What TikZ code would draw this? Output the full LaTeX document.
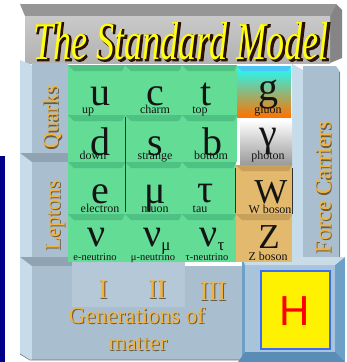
\documentclass[tikz,border=0pt]{standalone}
\usepackage{fontspec}
\setmainfont{Liberation Serif}
\newfontfamily\hfont{Liberation Sans}
\newfontfamily\ttlfat{Liberation Serif}[FakeBold=3.5]
\definecolor{navyb}{HTML}{000088}
\definecolor{grn}{HTML}{63DC96}
\definecolor{grnd}{HTML}{4EC282}
\definecolor{bxf}{HTML}{A9BFCF}
\definecolor{bxl}{HTML}{C6DCEA}
\definecolor{bxt}{HTML}{8FA3B2}
\definecolor{bxi}{HTML}{B4C8D8}
\definecolor{orng}{HTML}{F2B33E}
\definecolor{oshad}{HTML}{6A5A40}
\definecolor{tanc}{HTML}{E2B96D}
\definecolor{tand}{HTML}{C9A059}
\definecolor{ttop}{HTML}{969696}
\definecolor{tside}{HTML}{858585}
\definecolor{tfrontA}{HTML}{C9C9C9}
\definecolor{tfrontB}{HTML}{B2B2B2}
\definecolor{tyel}{HTML}{FFFF10}
\definecolor{tdark}{HTML}{2A0E00}
\definecolor{hbl}{HTML}{6CA0C6}
\definecolor{hbld}{HTML}{5A8DB5}
\definecolor{hbli}{HTML}{A8C4DA}
\definecolor{hbrd}{HTML}{3B6CF5}
\definecolor{symc}{HTML}{141414}
\tikzset{
  sym/.style={inner sep=0pt, anchor=base, text=symc, font=\fontsize{40}{40}\selectfont},
  symcap/.style={sym, font=\fontsize{35}{35}\selectfont},
  lab/.style={inner sep=0pt, anchor=base, text=symc, font=\fontsize{12}{12}\selectfont},
  nlab/.style={inner sep=0pt, anchor=base, text=symc, font=\fontsize{10.5}{10.5}\selectfont},
  otxt/.style={inner sep=0pt, anchor=base, text=orng},
  oshd/.style={inner sep=0pt, anchor=base, text=oshad},
  ttl/.style={inner sep=0pt, anchor=base west},
}
\newcommand\ttltext{\resizebox{295pt}{37pt}{\itshape The Standard Model}}
\newcommand\ttlshadow{\resizebox{296pt}{37.5pt}{\ttlfat\itshape The Standard Model}}
\begin{document}
\begin{tikzpicture}[x=1pt,y=-1pt]
\useasboundingbox (0,0) rectangle (347,362);
\fill[white] (0,0) rectangle (347,362);
% left navy bar
\fill[navyb] (0,156) rectangle (5,362);

% ---- title box ----
\fill[ttop] (20,4) -- (336,4) -- (330,16) -- (25,16) -- cycle;
\fill[tside] (336,4) -- (342,10) -- (342,58) -- (330,63) -- (330,16) -- cycle;
\shade[top color=tfrontA, bottom color=tfrontB] (25,16) rectangle (330,63);
\node[ttl, text=tdark] (titleshadow) at (34.5,60.5) {\ttlshadow};
\node[ttl, text=tyel] (title) at (33,59) {\ttltext};

% ---- Quarks box ----
\fill[bxl] (20,60) -- (32,65) -- (32,153) -- (20,153) -- cycle;
\fill[bxf] (32,63) rectangle (68,153);
% ---- Leptons box ----
\fill[bxl] (20,153) -- (32,162) -- (32,257) -- (20,257) -- cycle;
\fill[bxt] (20,153) -- (68,153) -- (68,162) -- (32,162) -- cycle;
\fill[bxf] (32,162) rectangle (68,257);
% ---- Generations box ----
\fill[bxl] (20,257) -- (32,266) -- (32,360) -- (20,354) -- cycle;
\fill[bxt] (20,257) -- (72,257) -- (72,266) -- (32,266) -- cycle;
\fill[bxf] (32,266) rectangle (243,360);
\fill[bxi] (72,262) rectangle (185,307);
\draw[bxt!70!black, line width=0.6pt] (20,354) -- (30,360) -- (243,360);
% ---- Force carriers box ----
\fill[bxl] (292,64) -- (303,70) -- (303,262) -- (292,262) -- cycle;
\fill[bxf] (303,66) -- (336,66) -- (340,72) -- (340,262) -- (303,262) -- cycle;
\draw[bxt!80!black, line width=0.6pt] (339,72) -- (339,262);

% ---- Higgs box ----
\fill[hbl] (242,257) -- (345,257) -- (345,362) -- (242,362) -- cycle;
\fill[hbli] (245,265) rectangle (335,352);
\fill[hbld] (245,352) -- (335,352) -- (345,362) -- (238,362) -- cycle;
\fill[hbli!60!white] (242,257) -- (345,257) -- (335,265) -- (245,265) -- cycle;
\fill[yellow, draw=hbrd, line width=1.4pt] (261,271) rectangle (330,349);
\node[inner sep=0pt, anchor=base, text=red, font=\hfont\fontsize{42}{42}\selectfont] (H) at (295,325) {H};

% ---- green cells ----
\foreach \xa/\ya/\xb/\yb in {68/65/125/115, 125/65/182/115, 182/65/237/115,
  68/115/125/162, 125/115/182/162, 182/115/237/162,
  68/162/125/214, 125/162/182/214, 182/162/236/214,
  68/214/125/262, 125/214/182/262, 182/214/236/262}{
  \fill[grn] (\xa,\ya) rectangle (\xb,\yb);
  \fill[grnd] (\xa,\ya) -- (\xb,\ya) -- (\xb-3,\ya+6) -- (\xa+6,\ya+6) -- cycle;
}
\draw[black!80, line width=0.8pt] (125,117) -- (125,212);
\draw[black!80, line width=0.8pt] (235,168) -- (235,213);

% ---- force cells ----
\shade[top color=cyan!90!white, middle color=gray!55!yellow!60, bottom color=orange!90!red] (237,66) rectangle (291,117);
\fill[cyan!70!white] (237,66) -- (291,66) -- (288,71) -- (242,71) -- cycle;
\shade[top color=white, bottom color=black!40] (240,120) rectangle (292,165);
\fill[tanc] (236,165) rectangle (292,214);
\fill[tand] (236,165) -- (292,165) -- (289,171) -- (242,171) -- cycle;
\fill[tanc] (236,214) rectangle (292,262);
\fill[tand] (236,214) -- (292,214) -- (289,220) -- (242,220) -- cycle;
\draw[black!80, line width=0.8pt] (292,168) -- (292,214);

% ---- symbols ----
\node[sym] (u) at (100,105) {u};
\node[sym] (c) at (155,105) {c};
\node[sym] (t) at (206,105) {t};
\node[sym] (d) at (100,155) {d};
\node[sym] (s) at (155,155) {s};
\node[sym] (b) at (212,155) {b};
\node[sym] (e) at (100,203) {e};
\node[sym] (mu) at (155,203) {μ};
\node[sym] (tau) at (206,202) {τ};
\node[sym] (nue) at (97,246) {ν};
\node[sym] (numu) at (157,246) {ν\raisebox{-4pt}{\fontsize{17}{17}\selectfont μ}};
\node[sym] (nutau) at (212,246) {ν\raisebox{-4pt}{\fontsize{17}{17}\selectfont τ}};
\node[sym] (g) at (268,100) {g};
\node[sym] (gam) at (268,146) {γ};
\node[symcap] (W) at (271,203) {W};
\node[symcap] (Z) at (269,248) {Z};

% ---- labels ----
\node[lab] (lu) at (88,113) {up};
\node[lab] (lc) at (155,113) {charm};
\node[lab] (lt) at (200,113) {top};
\node[lab] (ld) at (93,159) {down};
\node[lab] (ls) at (155,159) {strange};
\node[lab] (lb) at (211,159) {bottom};
\node[lab] (le) at (100,212) {electron};
\node[lab] (lmu) at (155,212) {muon};
\node[lab] (ltau) at (200,212) {tau};
\node[nlab] (lnue) at (95,260) {e-neutrino};
\node[nlab] (lnumu) at (153,260) {μ-neutrino};
\node[nlab] (lnutau) at (207,260) {τ-neutrino};
\node[lab] (lg) at (268,113) {gluon};
\node[lab] (lgam) at (268,159) {photon};
\node[lab] (lW) at (270,213) {W boson};
\node[lab] (lZ) at (268,260) {Z boson};

% ---- orange texts ----
\node[oshd, rotate=90, font=\fontsize{22}{22}\selectfont, anchor=center] at (53,118.5) {Quarks};
\node[otxt, rotate=90, font=\fontsize{22}{22}\selectfont, anchor=center] (quarks) at (52,117) {Quarks};
\node[oshd, rotate=90, font=\fontsize{22}{22}\selectfont, anchor=center] at (56,216.5) {Leptons};
\node[otxt, rotate=90, font=\fontsize{22}{22}\selectfont, anchor=center] (leptons) at (55,215) {Leptons};
\node[oshd, rotate=90, font=\fontsize{23}{23}\selectfont, anchor=center] at (324,188.5) {Force Carriers};
\node[otxt, rotate=90, font=\fontsize{23}{23}\selectfont, anchor=center] (force) at (323,187) {Force Carriers};
\foreach \nm/\tx/\xx/\yy in {g1/I/103/298, g2/II/157/298, g3/III/213/300}{
  \node[oshd, font=\fontsize{27}{27}\selectfont] at (\xx+1,\yy+1.2) {\tx};
  \node[otxt, font=\fontsize{27}{27}\selectfont] (\nm) at (\xx,\yy) {\tx};
}
\node[oshd, font=\fontsize{23}{23}\selectfont] at (138,324) {Generations of};
\node[otxt, font=\fontsize{23}{23}\selectfont] (gen) at (137,323) {Generations of};
\node[oshd, font=\fontsize{23}{23}\selectfont] at (139,351) {matter};
\node[otxt, font=\fontsize{23}{23}\selectfont] (matter) at (138,350) {matter};
\end{tikzpicture}
\end{document}
